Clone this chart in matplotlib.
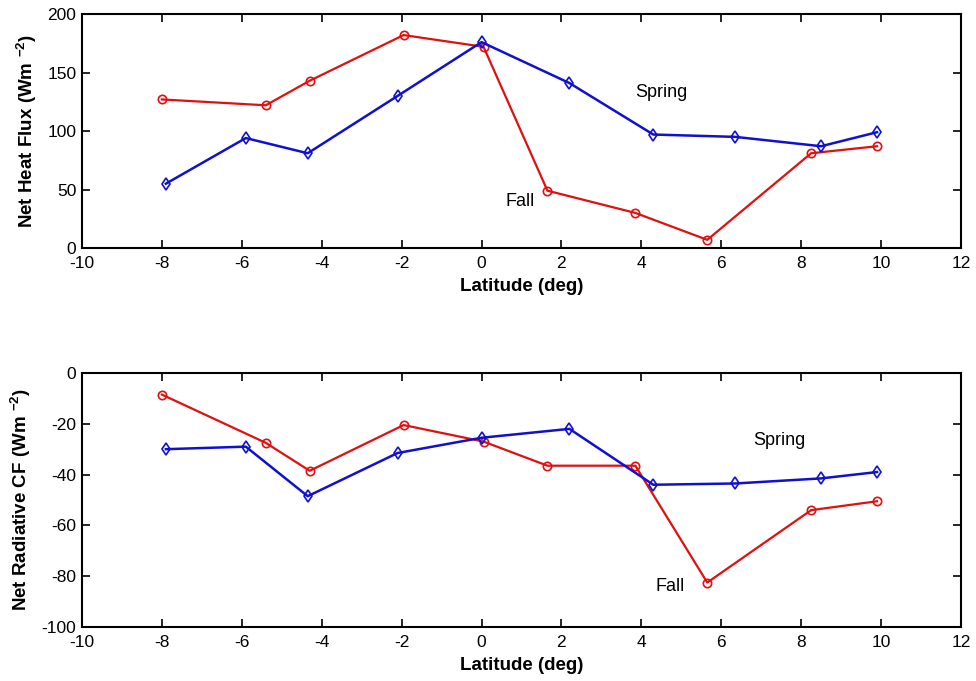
import matplotlib
matplotlib.use("Agg")
import matplotlib.pyplot as plt

# latitudes (deg) of the sample points
lat_fall = [-8.0, -5.4, -4.3, -1.95, 0.05, 1.65, 3.85, 5.65, 8.25, 9.9]
lat_spring = [-7.9, -5.9, -4.35, -2.1, 0.0, 2.2, 4.3, 6.35, 8.5, 9.9]

# top panel: net heat flux (W m-2)
heat_fall = [127, 122, 143, 182, 172, 49, 30, 7, 81, 87]
heat_spring = [55, 94, 81, 130, 176, 141, 97, 95, 87, 99]

# bottom panel: net radiative cloud forcing (W m-2)
rad_fall = [-8.5, -27.5, -38.5, -20.5, -27, -36.5, -36.5, -82.5, -54, -50.5]
rad_spring = [-30, -29, -48.5, -31.5, -25.5, -22, -44, -43.5, -41.5, -39]

plt.rcParams["font.family"] = ["Liberation Sans", "DejaVu Sans"]
plt.rcParams["axes.unicode_minus"] = False
plt.rcParams["mathtext.fontset"] = "custom"
plt.rcParams["mathtext.rm"] = "Liberation Sans:bold"
plt.rcParams["mathtext.bf"] = "Liberation Sans:bold"

fig = plt.figure(figsize=(9.76, 6.81), dpi=100)
ax1 = fig.add_axes([0.084, 0.6358, 0.9006, 0.3436])
ax2 = fig.add_axes([0.084, 0.0793, 0.9006, 0.3730])


def style(ax, ylim, yticks, ylabel):
    ax.set_xlim(-10, 12)
    ax.set_xticks(range(-10, 13, 2))
    ax.set_ylim(*ylim)
    ax.set_yticks(yticks)
    ax.tick_params(direction="in", top=True, right=True, length=6, width=1.2,
                   labelsize=12.5)
    ax.tick_params(axis="x", pad=6)
    ax.tick_params(axis="y", pad=4)
    for s in ax.spines.values():
        s.set_linewidth(1.5)
    ax.set_xlabel("Latitude (deg)", fontsize=13.5, fontweight="bold", labelpad=5)
    ax.set_ylabel(ylabel, fontsize=13.5, fontweight="bold", labelpad=6)


ax1.plot(lat_fall, heat_fall, color="#e01010", lw=1.6, marker="o", ms=6,
         mfc="none", mew=1.2)
ax1.plot(lat_spring, heat_spring, color="#1010d0", lw=1.8, marker="d", ms=6.5,
         mfc="none", mew=1.2)
ax1.text(3.85, 133, "Spring", fontsize=13, ha="left", va="center")
ax1.text(0.6, 40, "Fall", fontsize=13, ha="left", va="center")
style(ax1, (0, 200), range(0, 201, 50), r"Net Heat Flux (Wm $^{-2}$)")

ax2.plot(lat_fall, rad_fall, color="#e01010", lw=1.6, marker="o", ms=6,
         mfc="none", mew=1.2)
ax2.plot(lat_spring, rad_spring, color="#1010d0", lw=1.8, marker="d", ms=6.5,
         mfc="none", mew=1.2)
ax2.text(6.8, -26.5, "Spring", fontsize=13, ha="left", va="center")
ax2.text(4.35, -84, "Fall", fontsize=13, ha="left", va="center")
style(ax2, (-100, 0), range(-100, 1, 20), r"Net Radiative CF (Wm $^{-2}$)")

fig.savefig("out.png", dpi=100)
